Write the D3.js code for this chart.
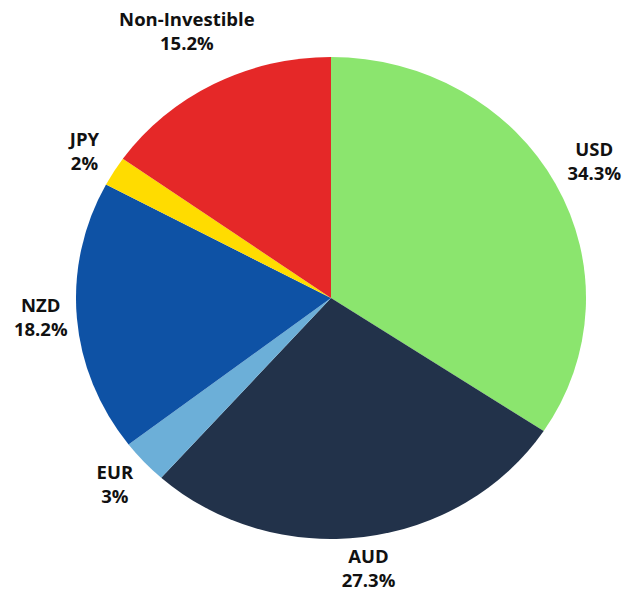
<!DOCTYPE html>
<html>
<head>
<meta charset="utf-8">
<script src="https://cdn.jsdelivr.net/npm/d3@7"></script>
<style>
  body { margin: 0; background: #fff; }
</style>
</head>
<body>
<div id="chart"></div>
<script>
// Chart data
var labels = ["USD", "AUD", "EUR", "NZD", "JPY", "Non-Investible"];
var values = [34.3, 27.3, 3, 18.2, 2, 15.2];
var colors = ["#8be56e", "#22324a", "#6cafd8", "#0e52a5", "#ffdc00", "#e52828"];

var width = 627;
var height = 591;

// pie is drawn slightly wider than tall
var cx = 331, cy = 298;
var rx = 255, ry = 241;
var gap = 8;      // min space between label box and pie
var lift = -4;    // small upward nudge of all labels

var svg = d3.select("#chart")
  .append("svg")
  .attr("width", width)
  .attr("height", height);

var data = labels.map(function(d, i) {
  return {name: d, value: values[i], color: colors[i]};
});

var pie = d3.pie()
  .sort(null)
  .value(d => d.value);

var arcs = pie(data);

var arc = d3.arc()
  .innerRadius(0)
  .outerRadius(rx);

// Draw slices in a circle, then squash it vertically
svg.append("g")
  .attr("transform", "translate(" + cx + "," + cy + ") scale(1," + (ry / rx) + ")")
  .selectAll("path")
  .data(arcs)
  .join("path")
  .attr("d", arc)
  .attr("fill", d => d.data.color);

// Labels around the pie
var label = svg.append("g")
  .attr("font-family", "'Open Sans', sans-serif")
  .attr("font-weight", "bold")
  .attr("font-size", 18.5)
  .attr("fill", "#111")
  .attr("text-anchor", "middle")
  .selectAll("text")
  .data(arcs)
  .join("text");

label.append("tspan")
  .attr("x", 0)
  .attr("dy", "-0.15em")
  .text(d => d.data.name);

label.append("tspan")
  .attr("x", 0)
  .attr("dy", 24)
  .text(d => d.data.value + "%");

// push each label out along its mid angle until the box clears the pie
function clears(x, y, b) {
  var pts = [
    [x + b.x, y + b.y], [x + b.x + b.width, y + b.y],
    [x + b.x, y + b.y + b.height], [x + b.x + b.width, y + b.y + b.height],
    [x + b.x + b.width / 2, y + b.y], [x + b.x + b.width / 2, y + b.y + b.height],
    [x + b.x, y + b.y + b.height / 2], [x + b.x + b.width, y + b.y + b.height / 2]
  ];
  return pts.every(function(p) {
    var u = (p[0] - cx) / (rx + gap), v = (p[1] - cy) / (ry + gap);
    return u * u + v * v >= 1;
  });
}

label.attr("transform", function(d) {
  var b = this.getBBox();
  var a = (d.startAngle + d.endAngle) / 2;
  var k = 1, x, y;
  do {
    x = cx + rx * k * Math.sin(a);
    y = cy - ry * k * Math.cos(a) - (b.y + b.height / 2);
    k += 0.002;
  } while (!clears(x, y, b) && k < 2);
  return "translate(" + x + "," + (y + lift) + ")";
});
</script>
</body>
</html>
